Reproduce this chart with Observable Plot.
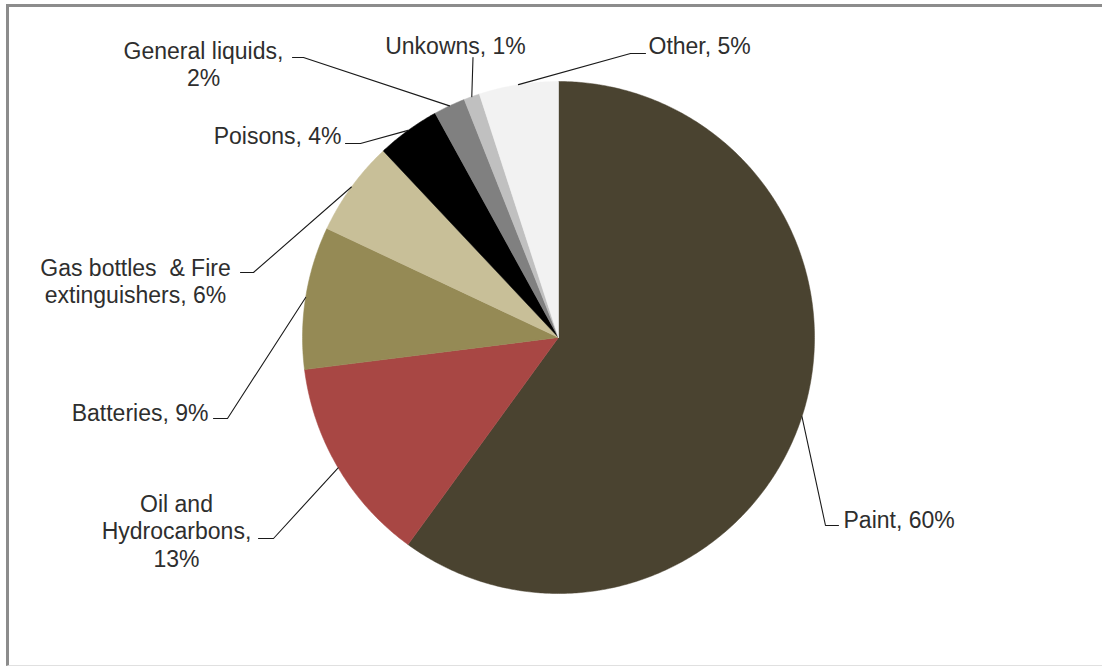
<!DOCTYPE html>
<html>
<head>
<meta charset="utf-8">
<script src="https://cdn.jsdelivr.net/npm/d3@7"></script>
<script src="https://cdn.jsdelivr.net/npm/@observablehq/plot@0.6"></script>
<style>
  html, body { margin: 0; padding: 0; background: #fff; }
  #wrap { position: relative; width: 1102px; height: 666px; overflow: hidden; }
  #frame { position: absolute; left: 6px; top: 4px; width: 1100px; height: 658px;
           border-left: 3px solid #8c8c8c; border-top: 3px solid #8c8c8c; border-bottom: 1px solid #e0e0e0;
           pointer-events: none; }
</style>
</head>
<body>
<div id="wrap"><div id="frame"></div></div>
<script>
// ---- data ----
const categories = ["Paint", "Oil and Hydrocarbons", "Batteries", "Gas bottles & Fire extinguishers",
                    "Poisons", "General liquids", "Unkowns", "Other"];
const shares = [60, 13, 9, 6, 4, 2, 1, 5];
const labelTexts = ["Paint, 60%", "Oil and\nHydrocarbons,\n13%", "Batteries, 9%",
                    "Gas bottles  & Fire\nextinguishers, 6%", "Poisons, 4%",
                    "General liquids,\n2%", "Unkowns, 1%", "Other, 5%"];
const colors = ["#4a4330", "#a84744", "#958a55", "#c8bf98", "#000000", "#808080", "#c0c0c0", "#f2f2f2"];

// ---- layout ----
const W = 1102, H = 666;
const cx = 558, cy = 337, R = 256;
const labelX      = [843, 176, 208, 135, 341, 203, 455, 648];
const labelY      = [519, 530, 412, 280, 135, 63, 45, 45];
const labelAnchor = ["start", "middle", "end", "middle", "end", "middle", "middle", "start"];
const elbowX = [825, 273, 227, 253, 360, 303, 472.5, 630];
const elbowY = [525, 538, 418, 272, 143, 57, 57, 53];
const tailX  = [838, 258, 213, 240, 345, 292, 472.5, 645];

const total = d3.sum(shares);
let acc = 0;
const slices = [];
const leaders = [];
const labels = [];
categories.forEach((name, i) => {
  const a0 = acc / total * 2 * Math.PI;
  acc += shares[i];
  const a1 = acc / total * 2 * Math.PI;
  const pts = [{name, x: cx, y: cy}];
  const n = Math.max(2, Math.ceil((a1 - a0) / (Math.PI / 360)));
  for (let k = 0; k <= n; k++) {
    const a = a0 + (a1 - a0) * k / n;
    pts.push({name, x: cx + R * Math.sin(a), y: cy - R * Math.cos(a)});
  }
  pts.push({name, x: cx, y: cy});
  slices.push(...pts);
  const am = (a0 + a1) / 2;
  const ex = cx + R * Math.sin(am), ey = cy - R * Math.cos(am);
  leaders.push({name, x: ex, y: ey}, {name, x: elbowX[i], y: elbowY[i]}, {name, x: tailX[i], y: elbowY[i]});
  labels.push({name, text: labelTexts[i], x: labelX[i], y: labelY[i], anchor: labelAnchor[i]});
});

const chart = Plot.plot({
  width: W, height: H,
  margin: 0,
  x: {domain: [0, W], range: [0, W], axis: null},
  y: {domain: [0, H], range: [0, H], axis: null},
  color: {domain: categories, range: colors},
  style: {fontFamily: "'Liberation Sans', Arial, sans-serif", background: "transparent"},
  marks: [
    Plot.line(slices, {x: "x", y: "y", z: "name", fill: "name", stroke: "name", strokeWidth: 0.5, curve: "linear"}),
    Plot.line(leaders, {x: "x", y: "y", z: "name", stroke: "#1a1a1a", strokeWidth: 1.1}),
    ...["start", "middle", "end"].map(anchor =>
      Plot.text(labels.filter(d => d.anchor === anchor), {
        x: "x", y: "y", text: "text", textAnchor: anchor, lineAnchor: "middle",
        lineHeight: 1.2, fontSize: 23, fill: "#2e2e2e"
      }))
  ]
});
chart.style.position = "absolute";
chart.style.left = "0px";
chart.style.top = "0px";
document.getElementById("wrap").prepend(chart);
</script>
</body>
</html>
